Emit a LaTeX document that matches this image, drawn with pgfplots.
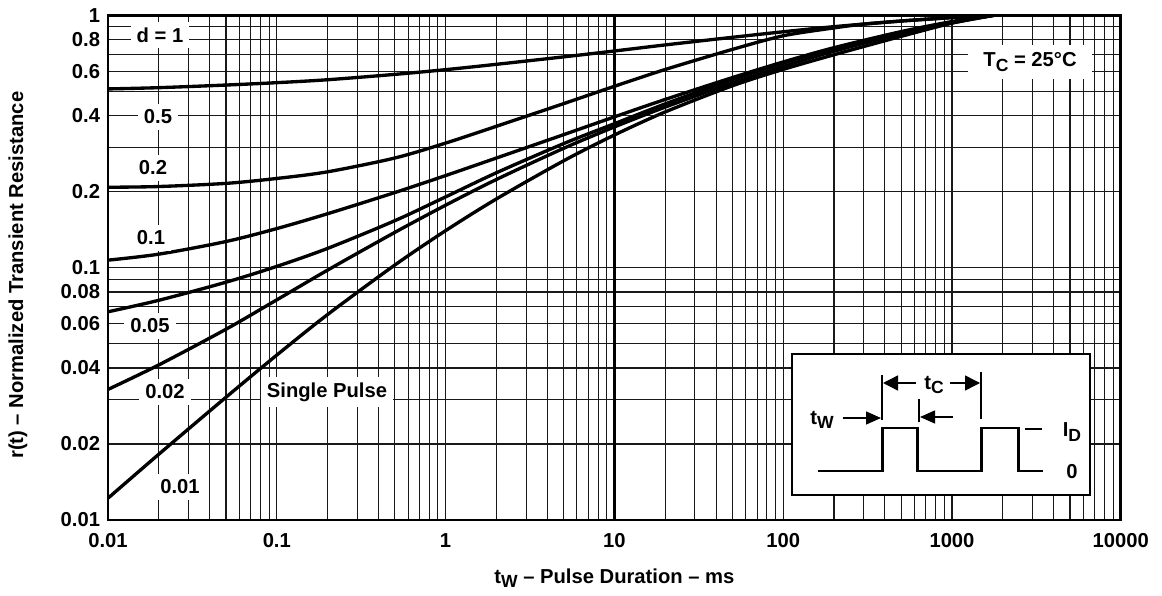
\documentclass[border=0pt]{standalone}
\usepackage{fontspec}
\setmainfont{Liberation Sans}
\usepackage{pgfplots}
\pgfplotsset{compat=1.18}
\usetikzlibrary{arrows.meta}

% lowered subscript as in the datasheet (t_W, T_C, I_D)
\newcommand{\lo}[1]{\raisebox{-0.4ex}{\fontsize{10}{11}\selectfont #1}}

\begin{document}
\begin{tikzpicture}[x=0.02cm,y=0.02cm,font=\fontsize{11.5}{13}\selectfont\bfseries]
\begin{axis}[
    at={(0,0)}, anchor=south west, scale only axis,
    width=20.26cm, height=10.1cm,
    xmode=log, ymode=log,
    xmin=0.01, xmax=10000, ymin=0.01, ymax=1,
    xtick={0.01,0.1,1,10,100,1000,10000},
    xticklabels={0.01,0.1,1,10,100,1000,10000},
    minor xtick={0.02,0.03,0.04,0.05,0.06,0.07,0.08,0.09,
                 0.2,0.3,0.4,0.5,0.6,0.7,0.8,0.9,
                 2,3,4,5,6,7,8,9,20,30,40,50,60,70,80,90,
                 200,300,400,500,600,700,800,900,
                 2000,3000,4000,5000,6000,7000,8000,9000},
    ytick={0.01,0.02,0.04,0.06,0.08,0.1,0.2,0.4,0.6,0.8,1},
    yticklabels={0.01,0.02,0.04,0.06,0.08,0.1,0.2,0.4,0.6,0.8,1},
    minor ytick={0.03,0.05,0.07,0.09,0.3,0.5,0.7,0.9},
    extra x ticks={10}, extra x tick labels={},
    extra x tick style={major grid style={black,line width=1.4pt}},
    grid=both,
    major grid style={black!90,line width=0.6pt},
    minor grid style={black!90,line width=0.6pt},
    tick style={draw=none},
    axis line style={line width=1.6pt},
    ticklabel style={font=\fontsize{11.5}{13}\selectfont\bfseries},
    xticklabel style={yshift=-4pt},
    yticklabel style={xshift=-1pt},
    xlabel={t\lo{W} -- Pulse Duration -- ms},
    ylabel={r(t) -- Normalized Transient Resistance},
    xlabel style={at={(axis description cs:0.5,-0.115)},anchor=center},
    ylabel style={at={(axis description cs:-0.089,0.485)},anchor=center},
    curve/.style={black,no markers,line width=1.9pt,smooth},
]
% d = 1
\addplot[black,no markers,line width=2.6pt] coordinates {(0.01,1)(10000,1)};
% d = 0.5
\addplot[curve] coordinates {(0.01,0.51)(0.02,0.5159)(0.05,0.5284)(0.1,0.540)(0.2,0.5546)
 (0.5,0.5824)(1,0.608)(2,0.6384)(5,0.6832)(10,0.721)(20,0.7621)(50,0.8167)
 (100,0.859)(200,0.9)(500,0.9475)(1000,0.9775)(1800,1)};
% d = 0.2
\addplot[curve] coordinates {(0.01,0.208)(0.02,0.2094)(0.05,0.2155)(0.1,0.2254)(0.2,0.2395)
 (0.5,0.2716)(1,0.3112)(2,0.3628)(5,0.4459)(10,0.5224)(20,0.609)(50,0.7315)
 (100,0.828)(200,0.89)(300,0.921)(500,0.9475)(1000,0.9775)(1800,1)};
% d = 0.1
\addplot[curve] coordinates {(0.01,0.107)(0.02,0.113)(0.05,0.1268)(0.1,0.1427)(0.2,0.1634)
 (0.5,0.1982)(1,0.2314)(2,0.2716)(5,0.336)(10,0.3953)(20,0.4634)(50,0.5656)
 (100,0.6522)(200,0.743)(500,0.8603)(1000,0.9428)(1800,1)};
% d = 0.05
\addplot[curve] coordinates {(0.01,0.0668)(0.02,0.0742)(0.05,0.0875)(0.1,0.1011)(0.2,0.1191)
 (0.5,0.1533)(1,0.1905)(2,0.2374)(5,0.3097)(10,0.3714)(20,0.445)(50,0.5545)
 (100,0.6453)(200,0.7387)(500,0.8555)(1000,0.933)(1800,1)};
% d = 0.02
\addplot[curve] coordinates {(0.01,0.0329)(0.02,0.04115)(0.05,0.05698)(0.1,0.0745)
 (0.2,0.0977)(0.5,0.1378)(1,0.1766)(2,0.2233)(5,0.2966)(10,0.3606)(20,0.4321)
 (50,0.5384)(100,0.6266)(200,0.7194)(500,0.8447)(1000,0.9376)(1800,1)};
% single pulse (d = 0.01)
\addplot[curve] coordinates {(0.01,0.0122)(0.02,0.01822)(0.05,0.03064)(0.1,0.04501)
 (0.2,0.06515)(0.5,0.1023)(1,0.140)(2,0.187)(5,0.2647)(10,0.335)(20,0.4135)
 (50,0.5248)(100,0.6095)(200,0.6966)(500,0.824)(1000,0.929)(1800,1)};
\end{axis}

% curve labels (pixel-like coordinates, origin at the lower left axis corner)
\tikzset{lab/.style={fill=white,inner xsep=0.12cm,inner ysep=0.11cm}}
\node[lab] at (52,485) {d = 1};
\node[lab] at (50,403) {0.5};
\node[lab] at (45,352) {0.2};
\node[lab] at (43,282) {0.1};
\node[lab] at (42,194) {0.05};
\node[lab] at (57,128) {0.02};
\node[lab] at (219,128) {Single Pulse};
\node[lab] at (72,33) {0.01};
\node[lab,inner xsep=0.3cm,inner ysep=0.15cm] at (922,458) {T\lo{C} = 25°C};

% inset: pulse train
\draw[fill=white,line width=1.2pt] (684,25) rectangle (982,166);
\draw[line width=1.7pt] (710,49)--(774,49)--(774,92)--(809,92)--(809,49)
  --(873,49)--(873,92)--(910,92)--(910,49)--(935,49);
\draw[line width=0.6pt] (774,100)--(774,145) (873,101)--(873,148) (811,98)--(811,121)
  (917,91)--(934,91);
\draw[line width=0.8pt,-{Triangle[length=0.3cm,width=0.3cm]}] (808,137)--(775,137);
\draw[line width=0.8pt,-{Triangle[length=0.3cm,width=0.3cm]}] (842,137)--(872,137);
\node at (826,135) {t\lo{C}};
\node at (714,100) {t\lo{W}};
\draw[line width=0.8pt,-{Triangle[length=0.3cm,width=0.26cm]}] (735,102)--(773,102);
\draw[line width=0.8pt,-{Triangle[length=0.3cm,width=0.26cm]}] (845,103)--(812,103);
\node at (964,88) {I\lo{D}};
\node at (964,48) {0};

\pgfresetboundingbox
\path[use as bounding box] (-108,-75) rectangle (1054,520);
\end{tikzpicture}
\end{document}
